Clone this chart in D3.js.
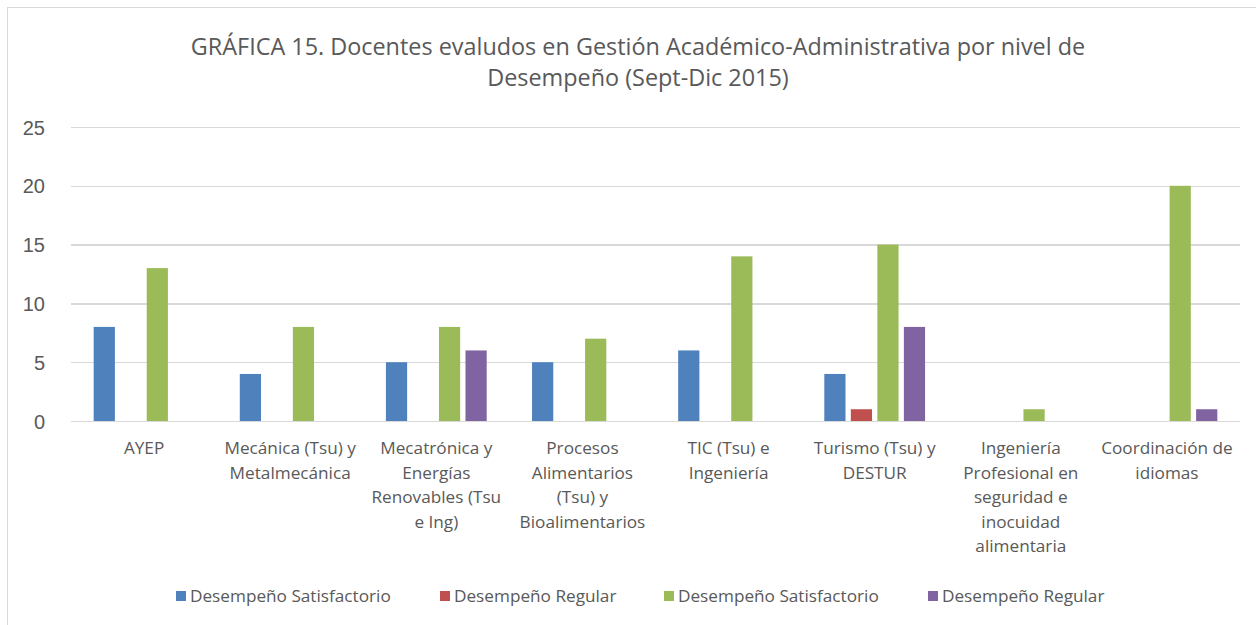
<!DOCTYPE html>
<meta charset="utf-8">
<style>
body { margin: 0; background: #fff; }
svg { font-family: "Open Sans", sans-serif; }
.grid line { stroke: #d9d9d9; stroke-width: 1.3px; shape-rendering: crispEdges; }
.grid path { display: none; }
.axis--y path, .axis--y line { display: none; }
.axis--y text { fill: #595959; font-size: 20px; }
.cat text { fill: #595959; font-size: 17.2px; }
.title { fill: #595959; font-size: 23.4px; }
.legend text { fill: #595959; font-size: 17.2px; }
</style>
<body>
<div id="chart"></div>
<script src="https://cdn.jsdelivr.net/npm/d3@7"></script>
<script>
// categories (label lines) and series
var categories = [
    ["AYEP"],
    ["Mecánica (Tsu) y", "Metalmecánica"],
    ["Mecatrónica y", "Energías", "Renovables (Tsu", "e Ing)"],
    ["Procesos", "Alimentarios", "(Tsu) y", "Bioalimentarios"],
    ["TIC (Tsu) e", "Ingeniería"],
    ["Turismo (Tsu) y", "DESTUR"],
    ["Ingeniería", "Profesional en", "seguridad e", "inocuidad", "alimentaria"],
    ["Coordinación de", "idiomas"]
];
var seriesNames = ["Desempeño Satisfactorio", "Desempeño Regular", "Desempeño Satisfactorio", "Desempeño Regular"];
var satisfactorio1 = [8, 4, 5, 5, 6, 4, 0, 0];
var regular1 = [0, 0, 0, 0, 0, 1, 0, 0];
var satisfactorio2 = [13, 8, 8, 7, 14, 15, 1, 20];
var regular2 = [0, 0, 6, 0, 0, 8, 0, 1];
var yTicks = [0, 5, 10, 15, 20, 25];
var colors = ["#4F81BD", "#C0504D", "#9BBB59", "#8064A2"];

var allSeries = [satisfactorio1, regular1, satisfactorio2, regular2];
var W = 1256, H = 625;
var plotL = 71, plotR = 1240, plotT = 127, plotB = 421;

var svg = d3.select("#chart").append("svg").attr("width", W).attr("height", H);

// outer frame
svg.append("rect").attr("x", 7.5).attr("y", 7.5).attr("width", W).attr("height", H)
    .attr("fill", "none").attr("stroke", "#d9d9d9").attr("stroke-width", 1);

svg.append("text").attr("class", "title").attr("x", 638).attr("y", 55)
    .attr("text-anchor", "middle").text("GRÁFICA 15. Docentes evaludos en Gestión Académico-Administrativa por nivel de");
svg.append("text").attr("class", "title").attr("x", 638).attr("y", 86)
    .attr("text-anchor", "middle").text("Desempeño (Sept-Dic 2015)");

var idx = d3.range(categories.length);
var x0 = d3.scaleBand().domain(idx).range([plotL, plotR]).paddingInner(0.274).paddingOuter(0.137);
var x1 = d3.scaleBand().domain(d3.range(4)).range([0, x0.bandwidth()]).paddingInner(0.2).paddingOuter(0.1);
var y = d3.scaleLinear().domain([0, 25]).range([plotB, plotT]);

svg.append("g").attr("class", "grid")
    .attr("transform", "translate(" + plotL + ",0)")
    .call(d3.axisLeft(y).tickValues(yTicks).tickSize(-(plotR - plotL)).tickFormat(""));

svg.append("g").attr("class", "axis--y")
    .attr("transform", "translate(" + (plotL - 23) + ",0)")
    .call(d3.axisLeft(y).tickValues(yTicks).tickSize(0))
    .selectAll("text").attr("dy", "0.35em");

var groups = svg.append("g").selectAll("g").data(idx).enter().append("g")
    .attr("transform", function(i) { return "translate(" + x0(i) + ",0)"; });

groups.selectAll("rect")
    .data(function(i) { return allSeries.map(function(s, k) { return { k: k, v: s[i] }; }); })
    .enter().filter(function(d) { return d.v > 0; }).append("rect")
    .attr("x", function(d) { return x1(d.k); })
    .attr("y", function(d) { return y(d.v); })
    .attr("width", x1.bandwidth())
    .attr("height", function(d) { return y(0) - y(d.v); })
    .attr("fill", function(d) { return colors[d.k]; });

// category labels
var cat = svg.append("g").attr("class", "cat");
idx.forEach(function(i) {
    var cx = x0(i) + x0.bandwidth() / 2;
    categories[i].forEach(function(line, j) {
        cat.append("text").attr("x", cx).attr("y", 454 + j * 24.5)
            .attr("text-anchor", "middle").text(line);
    });
});

// legend
var legX = [176, 440, 664, 928];
var leg = svg.append("g").attr("class", "legend");
seriesNames.forEach(function(n, k) {
    leg.append("rect").attr("x", legX[k]).attr("y", 591).attr("width", 10).attr("height", 10).attr("fill", colors[k]);
    leg.append("text").attr("x", legX[k] + 14).attr("y", 602).text(n);
});
</script>
</body>
